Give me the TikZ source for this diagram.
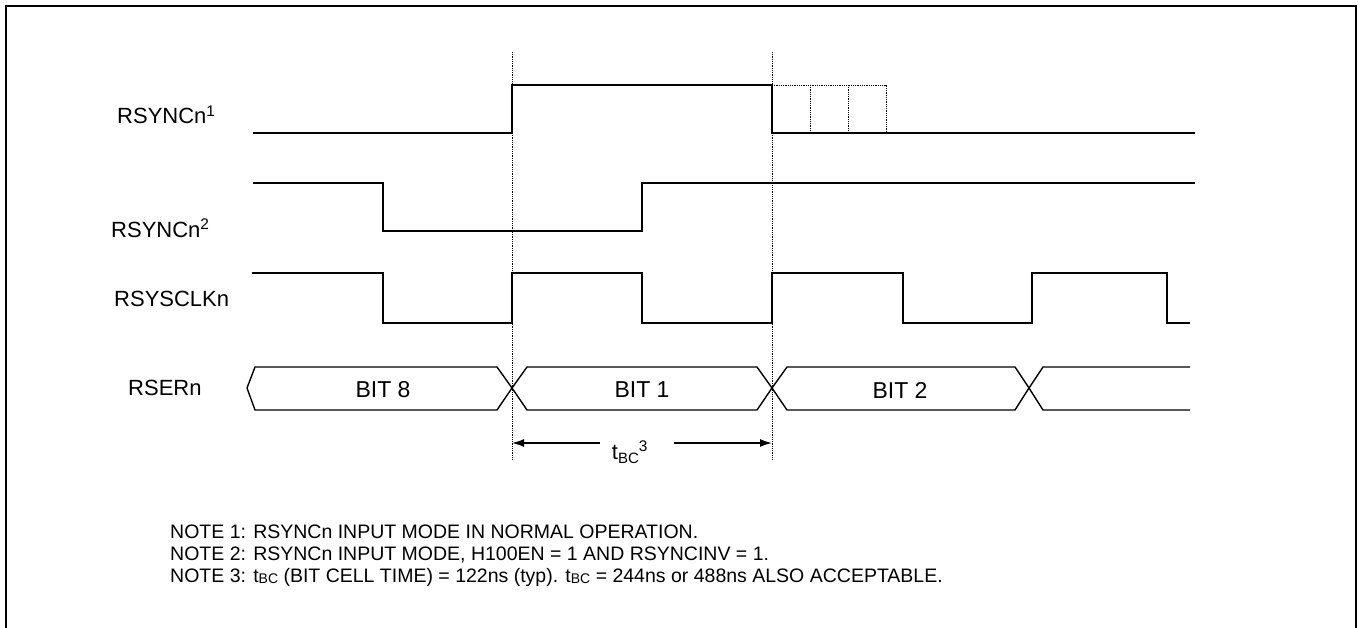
\documentclass[tikz,border=0pt]{standalone}
\usepackage{fontspec}
\setmainfont{Liberation Sans}
\usetikzlibrary{arrows.meta}
\begin{document}
\begin{tikzpicture}[x=1pt,y=-1pt,
  sig/.style={line width=1.4pt,line join=miter},
  guide/.style={line width=0.8pt,densely dotted},
  lbl/.style={font=\fontsize{22}{24}\selectfont,inner sep=0pt},
  bitlbl/.style={font=\fontsize{23}{26}\selectfont,inner sep=0pt},
  note/.style={font=\fontsize{19.5}{22}\selectfont,inner sep=0pt,anchor=base west},
  dim/.style={line width=1.4pt,-{Latex[length=12pt,width=8pt]}}]
\useasboundingbox (0,0) rectangle (1361,628);
\draw[line width=2pt] (6,628) -- (6,6) -- (1356,6) -- (1356,628);
% guides
\draw[guide] (512,52) -- (512,460);
\draw[guide] (772,52) -- (772,460);
% labels
\node[lbl,anchor=west] (l1) at (117,115) {RSYNCn\textsuperscript{1}};
\node[lbl,anchor=west] (l2) at (111,228) {RSYNCn\textsuperscript{2}};
\node[lbl,anchor=west] (l3) at (114,299) {RSYSCLKn};
\node[lbl,anchor=west] (l4) at (128,388) {RSERn};
% RSYNCn1
\draw[sig] (253,133) -- (512,133) -- (512,85) -- (772,85) -- (772,133) -- (1195,133);
\draw[guide] (772,85) -- (886,85) -- (886,133);
\draw[guide] (810,85) -- (810,133);
\draw[guide] (848,85) -- (848,133);
% RSYNCn2
\draw[sig] (253,183) -- (383,183) -- (383,231) -- (642,231) -- (642,183) -- (1195,183);
% RSYSCLKn
\draw[sig] (252,273) -- (383,273) -- (383,323) -- (512,323) -- (512,273) -- (642,273) -- (642,323) -- (772,323) -- (772,273) -- (903,273) -- (903,323) -- (1032,323) -- (1032,273) -- (1167,273) -- (1167,323) -- (1190,323);
\draw[line width=2.4pt] (252,273) -- (258,273);
% RSERn
\draw[sig] (247,388) -- (255,367) -- (497,367) -- (512,388) -- (497,410) -- (255,410) -- cycle;
\draw[sig] (512,388) -- (527,367) -- (757,367) -- (772,388) -- (757,410) -- (527,410) -- cycle;
\draw[sig] (772,388) -- (787,367) -- (1015,367) -- (1029,388) -- (1015,410) -- (787,410) -- cycle;
\draw[sig] (1190,367) -- (1043,367) -- (1029,388) -- (1043,410) -- (1190,410);
\node[bitlbl] (b8) at (383,390) {BIT 8};
\node[bitlbl] (b1) at (642,390) {BIT 1};
\node[bitlbl] (b2) at (900,390) {BIT 2};
% dimension
\coordinate (aL) at (512,443);
\coordinate (aR) at (772,443);
\node[lbl] (tbc) at (630,452) {t{\fontsize{15}{16}\selectfont\raisebox{-4pt}{BC}}\textsuperscript{3}};
\draw[dim] (600,443) -- (aL);
\draw[dim] (674,443) -- (aR);
% notes
\node[note] (n1) at (170,538) {NOTE 1: RSYNCn INPUT MODE IN NORMAL OPERATION.};
\node[note] (n2) at (170,560) {NOTE 2: RSYNCn INPUT MODE, H100EN = 1 AND RSYNCINV = 1.};
\node[note] (n3) at (170,582) {NOTE 3: t{\fontsize{14}{14}\selectfont\raisebox{-1pt}{BC}} (BIT CELL TIME) = 122ns (typ). t{\fontsize{14}{14}\selectfont\raisebox{-1pt}{BC}} = 244ns or 488ns ALSO ACCEPTABLE.};
\end{tikzpicture}
\end{document}
